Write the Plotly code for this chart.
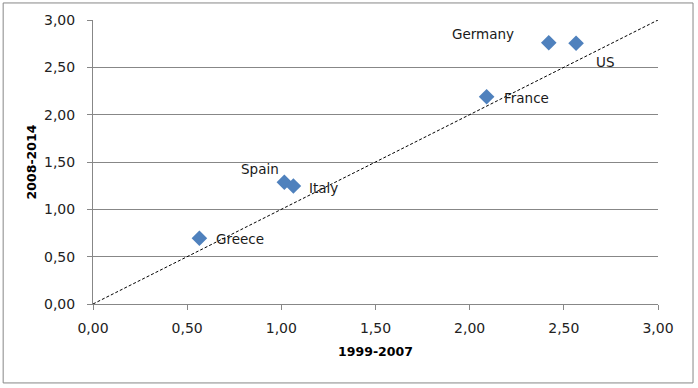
import plotly.graph_objects as go

countries = ["Germany", "US", "France", "Spain", "Italy", "Greece"]
x_1999_2007 = [2.42, 2.565, 2.09, 1.016, 1.064, 0.565]
y_2008_2014 = [2.76, 2.754, 2.19, 1.286, 1.246, 0.694]
diag_x = [0, 3]
diag_y = [0, 3]
tick_vals = [0, 0.5, 1, 1.5, 2, 2.5, 3]
tick_text = ["0,00", "0,50", "1,00", "1,50", "2,00", "2,50", "3,00"]

# label placement (pixel offsets relative to each marker)
label_style = {
    "Germany": dict(xanchor="center", xshift=-66, yshift=9),
    "US": dict(xanchor="center", xshift=29, yshift=-19),
    "France": dict(xanchor="left", xshift=15, yshift=-1),
    "Spain": dict(xanchor="center", xshift=-24, yshift=13),
    "Italy": dict(xanchor="left", xshift=14, yshift=-2),
    "Greece": dict(xanchor="left", xshift=15, yshift=-1),
}

FONT = "DejaVu Sans"
GRAY = "#878787"

fig = go.Figure()
fig.add_trace(go.Scatter(
    x=diag_x, y=diag_y, mode="lines",
    line=dict(color="#000000", width=1, dash="3px,2px"),
    hoverinfo="skip", showlegend=False))
fig.add_trace(go.Scatter(
    x=x_1999_2007, y=y_2008_2014, mode="markers",
    marker=dict(symbol="diamond", size=12, color="#4F81BD",
                line=dict(width=0)),
    text=countries, showlegend=False))

for c, xv, yv in zip(countries, x_1999_2007, y_2008_2014):
    fig.add_annotation(x=xv, y=yv, text=c, showarrow=False,
                       yanchor="middle",
                       font=dict(family=FONT, size=13.5, color="#1a1a1a"),
                       **label_style[c])

axis_common = dict(
    range=[0, 3], tickvals=tick_vals, ticktext=tick_text,
    showline=True, linecolor=GRAY, linewidth=1,
    ticks="outside", ticklen=5, tickcolor=GRAY, tickwidth=1,
    tickfont=dict(family=FONT, size=14, color="#222222"),
    zeroline=False, fixedrange=True,
)

fig.update_layout(
    width=698, height=388,
    margin=dict(l=93, r=40, t=20, b=84, autoexpand=False),
    paper_bgcolor="white", plot_bgcolor="white",
    xaxis=dict(**axis_common, showgrid=False,
               ticklabelstandoff=6,
               title=dict(text="<b>1999-2007</b>", standoff=12,
                          font=dict(family=FONT, size=12.5, color="#000000"))),
    yaxis=dict(**axis_common, showgrid=True, gridcolor=GRAY, gridwidth=1,
               ticklabelstandoff=9,
               title=dict(text="<b>2008-2014</b>", standoff=4,
                          font=dict(family=FONT, size=12.5, color="#000000"))),
    shapes=[dict(type="rect", xref="paper", yref="paper",
                 x0=-0.159, x1=1.062, y0=-0.278, y1=1.060,
                 line=dict(color=GRAY, width=1), fillcolor="rgba(0,0,0,0)",
                 layer="below")],
)

fig.write_html("out.html",
               config={"displayModeBar": False, "staticPlot": True},
               post_script="document.body.style.margin='0';document.body.style.overflow='hidden';")
